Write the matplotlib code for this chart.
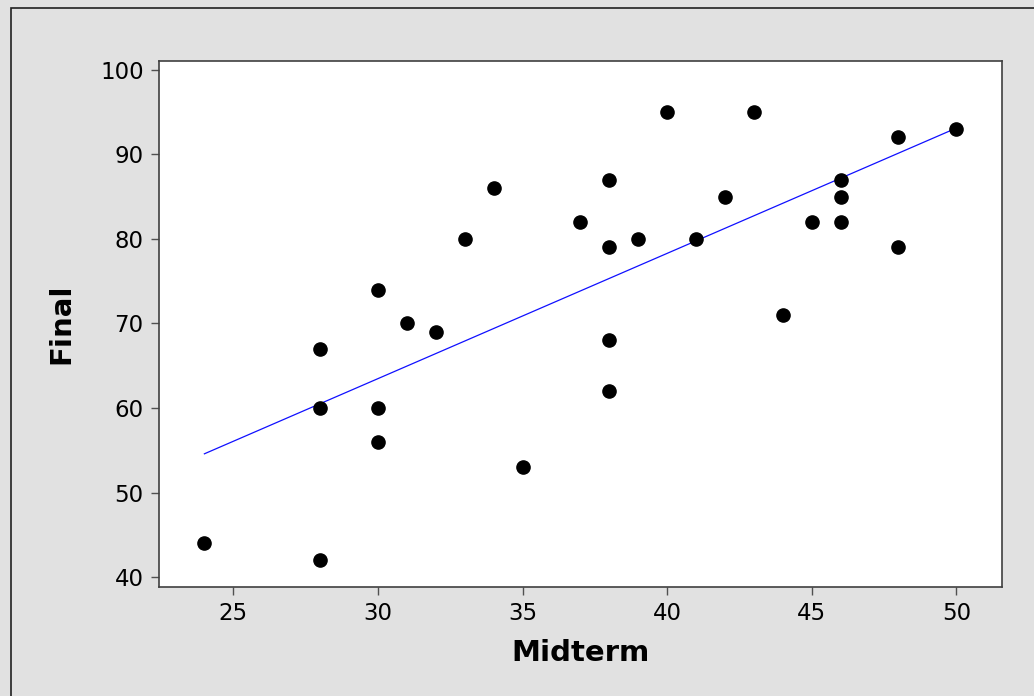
import matplotlib
matplotlib.use("Agg")
import matplotlib.pyplot as plt
import numpy as np
from matplotlib.patches import Rectangle

midterm = [24, 28, 28, 28, 30, 30, 30, 31, 32, 33, 34, 35, 37, 38, 38, 38, 38,
           39, 40, 41, 42, 43, 44, 45, 46, 46, 46, 48, 48, 50]
final = [44, 67, 60, 42, 74, 60, 56, 70, 69, 80, 86, 53, 82, 87, 79, 68, 62,
         80, 95, 80, 85, 95, 71, 82, 87, 85, 82, 92, 79, 93]
x_ticks = [25, 30, 35, 40, 45, 50]
y_ticks = [40, 50, 60, 70, 80, 90, 100]

W, H = 1034, 696
fig = plt.figure(figsize=(W / 100, H / 100), dpi=100)
fig.patch.set_facecolor("#e1e1e1")
# outer frame (runs off the right and bottom edges)
fig.patches.append(Rectangle((11 / W, -0.05), 1.1, 1.05 - 8 / H, transform=fig.transFigure,
                             fill=False, edgecolor="#202020", linewidth=1.2))

ax = fig.add_axes([159 / W, 1 - 587 / H, (1002 - 159) / W, (587 - 61) / H])
ax.set_facecolor("white")

# least-squares fit line
b, a = np.polyfit(midterm, final, 1)
xs = np.array([min(midterm), max(midterm)])
ax.plot(xs, a + b * xs, color="#1010ff", linewidth=0.9, zorder=2)

ax.plot(midterm, final, "o", color="black", markersize=9.5, zorder=3)

ax.set_xlim(22.43, 51.58)
ax.set_ylim(38.85, 101.03)
ax.set_xticks(x_ticks)
ax.set_yticks(y_ticks)
ax.tick_params(direction="out", length=6, width=1, color="#505050",
               labelsize=16.5, pad=5)
for sp in ax.spines.values():
    sp.set_color("#404040")
    sp.set_linewidth(1.2)

ax.set_xlabel("Midterm", fontsize=21, fontweight="bold", labelpad=10)
ax.set_ylabel("Final", fontsize=21, fontweight="bold", labelpad=18)

fig.savefig("out.png", dpi=100, facecolor=fig.get_facecolor())
